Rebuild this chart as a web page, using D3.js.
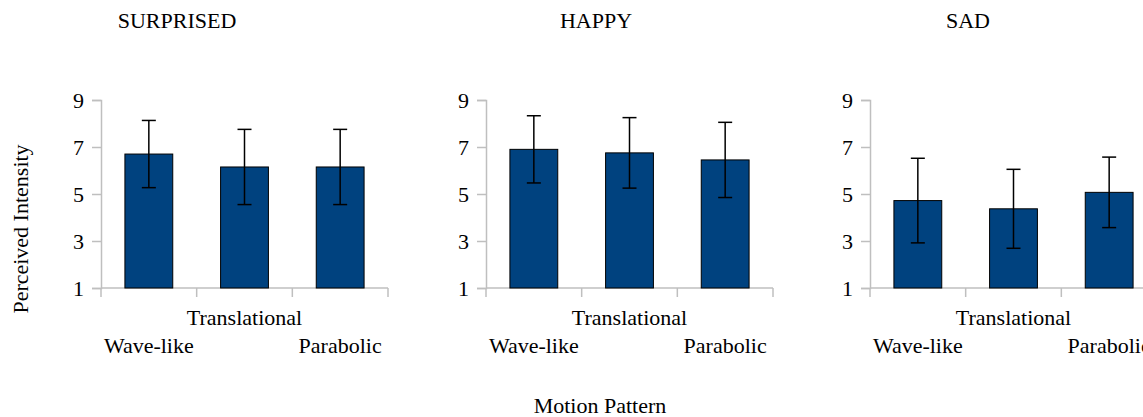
<!DOCTYPE html>
<html lang="en">
	<head>
		<meta charset="utf-8">
		<title>Perceived Intensity</title>
		<script type="text/javascript" src="https://cdn.jsdelivr.net/npm/d3@7/dist/d3.min.js"></script>
		<style>
			body { margin: 0; background: #fff; }
		</style>
	</head>
	<body>
		<script type="text/javascript">

			// data
			var emotions = ["SURPRISED", "HAPPY", "SAD"]
			var patterns = ["Wave-like", "Translational", "Parabolic"]
			var means = [
				[6.7, 6.15, 6.15],
				[6.9, 6.75, 6.45],
				[4.72, 4.37, 5.07]
			]
			var errors = [
				[1.43, 1.6, 1.6],
				[1.43, 1.5, 1.6],
				[1.8, 1.68, 1.5]
			]
			var yTicks = [1, 3, 5, 7, 9]

			// layout
			var width = 1143
			var height = 417
			var panelX = [101, 486, 870]
			var titleX = [177, 596, 968]
			var plotW = 287
			var plotTop = 100
			var plotBottom = 288
			var fs = "22px"
			var ff = "'Liberation Serif', 'DejaVu Serif', serif"

			var svg = d3.select("body")
				.append("svg")
				.attr("width", width)
				.attr("height", height)

			function label(sel) {
				return sel.style("font-family", ff).style("font-size", fs).attr("fill", "#000")
			}

			var y = d3.scaleLinear().domain([1, 9]).range([plotBottom, plotTop])

			emotions.forEach(function(emo, i) {
				var x = d3.scaleBand()
					.domain(patterns)
					.range([0, plotW])
					.paddingInner(0.5)
					.paddingOuter(0.25)

				var g = svg.append("g")
					.attr("transform", "translate(" + panelX[i] + ",0)")

				// title
				svg.append("text")
					.attr("x", titleX[i])
					.attr("y", 28)
					.attr("text-anchor", "middle")
					.call(label)
					.text(emo)

				// y axis
				var yAxis = g.append("g")
					.call(d3.axisLeft(y).tickValues(yTicks).tickSize(9).tickPadding(8))
				yAxis.select(".domain").attr("stroke", "#bfbfbf").attr("stroke-width", 1.5)
				yAxis.selectAll(".tick line").attr("stroke", "#bfbfbf").attr("stroke-width", 1.5)
				yAxis.selectAll(".tick text").call(label)

				// x axis line with ticks at band boundaries
				var xg = g.append("g").attr("transform", "translate(0," + plotBottom + ")")
				xg.append("line")
					.attr("x1", 0).attr("x2", plotW)
					.attr("stroke", "#bfbfbf").attr("stroke-width", 1.5)
				xg.selectAll(".bound")
					.data(d3.range(patterns.length + 1))
					.enter().append("line")
					.attr("x1", d => d * x.step())
					.attr("x2", d => d * x.step())
					.attr("y1", 0).attr("y2", 9)
					.attr("stroke", "#bfbfbf").attr("stroke-width", 1.5)

				// category labels, staggered
				xg.selectAll(".lab")
					.data(patterns)
					.enter().append("text")
					.attr("x", d => x(d) + x.bandwidth() / 2)
					.attr("y", (d, j) => j % 2 == 1 ? 37 : 65)
					.attr("text-anchor", "middle")
					.call(label)
					.text(d => d)

				// bars
				g.selectAll(".bar")
					.data(patterns)
					.enter().append("rect")
					.attr("x", d => x(d))
					.attr("width", x.bandwidth())
					.attr("y", (d, j) => y(means[i][j]))
					.attr("height", (d, j) => y(1) - y(means[i][j]))
					.attr("fill", "#00427f")
					.attr("stroke", "#000")
					.attr("stroke-width", 1)

				// error bars
				var eb = g.selectAll(".err")
					.data(patterns)
					.enter().append("g")
					.attr("stroke", "#000")
					.attr("stroke-width", 1.5)
				eb.append("line")
					.attr("x1", d => x(d) + x.bandwidth() / 2)
					.attr("x2", d => x(d) + x.bandwidth() / 2)
					.attr("y1", (d, j) => y(means[i][j] + errors[i][j]))
					.attr("y2", (d, j) => y(means[i][j] - errors[i][j]))
				;[1, -1].forEach(function(s) {
					eb.append("line")
						.attr("x1", d => x(d) + x.bandwidth() / 2 - 7)
						.attr("x2", d => x(d) + x.bandwidth() / 2 + 7)
						.attr("y1", (d, j) => y(means[i][j] + s * errors[i][j]))
						.attr("y2", (d, j) => y(means[i][j] + s * errors[i][j]))
				})
			})

			// axis titles
			svg.append("text")
				.attr("transform", "translate(28,229) rotate(-90)")
				.attr("text-anchor", "middle")
				.call(label)
				.text("Perceived Intensity")

			svg.append("text")
				.attr("x", 600)
				.attr("y", 413)
				.attr("text-anchor", "middle")
				.call(label)
				.text("Motion Pattern")

		</script>
	</body>
</html>
